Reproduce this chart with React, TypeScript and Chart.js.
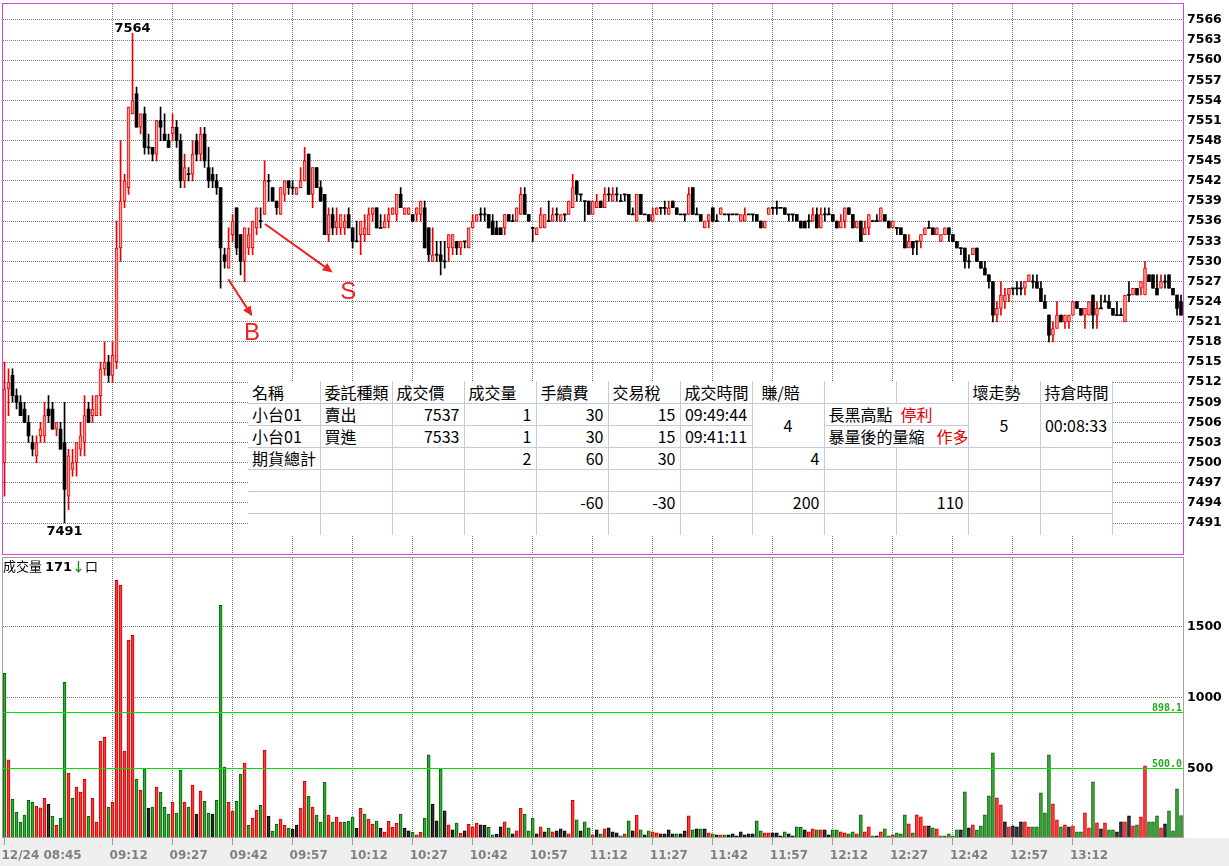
import React, { useEffect, useRef } from "react";
import { Chart, registerables } from "chart.js";

Chart.register(...registerables);

// ---------------- data ----------------
const sessionDate = "12/24";
const sessionStart = "08:45";
const prevSessionClose = 7513;
const currentVolume = 171;

const opens = [
  7500,7511,7513,7510,7509,7508,7506,7503,7501,7504,
  7504,7508,7508,7505,7505,7503,7495,7499,7500,7502,
  7503,7508,7507,7507,7510,7514,7515,7513,7515,7532,
  7539,7541,7552,7555,7550,7552,7547,7547,7546,7551,
  7549,7548,7549,7550,7548,7542,7543,7543,7548,7546,
  7549,7544,7543,7542,7541,7531,7529,7534,7538,7534,
  7530,7532,7532,7535,7536,7537,7542,7541,7539,7537,
  7540,7542,7541,7540,7541,7542,7546,7540,7544,7541,
  7540,7534,7537,7535,7535,7535,7537,7535,7533,7534,
  7534,7534,7537,7538,7535,7535,7536,7537,7537,7540,
  7537,7537,7537,7537,7537,7538,7535,7530,7531,7531,
  7530,7532,7532,7533,7532,7533,7532,7535,7536,7537,
  7537,7537,7536,7535,7535,7535,7537,7536,7536,7537,
  7540,7537,7535,7534,7535,7535,7536,7536,7537,7536,
  7537,7537,7538,7542,7540,7539,7539,7537,7538,7539,
  7538,7540,7539,7540,7539,7540,7540,7537,7536,7540,
  7537,7537,7536,7537,7538,7538,7537,7539,7538,7537,
  7537,7537,7541,7537,7537,7535,7536,7538,7536,7537,
  7537,7537,7537,7537,7536,7536,7537,7537,7537,7536,
  7535,7537,7538,7538,7538,7538,7537,7537,7537,7536,
  7536,7536,7536,7537,7535,7537,7537,7537,7536,7535,
  7536,7538,7537,7535,7536,7534,7535,7536,7536,7536,
  7537,7536,7535,7535,7535,7534,7532,7533,7533,7533,
  7534,7535,7535,7534,7533,7534,7535,7534,7533,7532,
  7532,7530,7531,7532,7530,7529,7528,7527,7522,7523,
  7524,7525,7526,7526,7526,7526,7527,7527,7527,7526,
  7524,7522,7519,7520,7522,7521,7521,7522,7524,7523,
  7522,7522,7525,7522,7523,7524,7524,7523,7522,7522,
  7521,7525,7525,7526,7526,7525,7528,7528,7526,7526,
  7527,7528,7526,7525,7524,
];
const highs = [
  7515,7514,7514,7511,7510,7509,7507,7504,7504,7506,
  7509,7510,7509,7506,7506,7509,7502,7502,7503,7506,
  7510,7509,7510,7510,7515,7518,7516,7518,7536,7548,
  7543,7553,7564,7556,7552,7553,7549,7547,7551,7553,
  7552,7549,7552,7551,7549,7546,7544,7548,7549,7550,
  7550,7547,7544,7543,7541,7532,7535,7537,7538,7534,
  7535,7535,7536,7538,7538,7545,7543,7541,7539,7541,
  7542,7542,7542,7541,7544,7547,7546,7544,7544,7542,
  7540,7538,7538,7538,7537,7537,7538,7535,7536,7536,
  7537,7538,7538,7538,7537,7537,7538,7538,7540,7541,
  7538,7538,7537,7538,7539,7539,7535,7535,7533,7533,
  7533,7534,7534,7533,7533,7533,7535,7537,7537,7538,
  7538,7537,7537,7536,7535,7537,7537,7537,7538,7541,
  7541,7537,7535,7535,7538,7537,7539,7538,7538,7537,
  7537,7539,7543,7542,7540,7539,7539,7539,7540,7539,
  7541,7541,7541,7541,7540,7540,7540,7538,7540,7540,
  7537,7537,7538,7538,7538,7539,7539,7539,7538,7537,
  7537,7541,7541,7538,7537,7536,7537,7538,7537,7538,
  7537,7537,7537,7537,7537,7538,7537,7537,7537,7536,
  7536,7538,7538,7539,7538,7538,7537,7537,7537,7536,
  7536,7537,7538,7538,7538,7538,7538,7537,7536,7537,
  7538,7538,7537,7536,7536,7536,7537,7536,7537,7538,
  7537,7536,7536,7535,7535,7534,7534,7533,7533,7534,
  7535,7536,7535,7535,7534,7535,7535,7534,7533,7532,
  7532,7531,7532,7532,7530,7530,7528,7527,7524,7527,
  7526,7526,7526,7527,7527,7527,7528,7528,7528,7527,
  7525,7522,7521,7524,7522,7522,7522,7524,7524,7523,
  7523,7524,7525,7524,7525,7525,7525,7523,7524,7523,
  7525,7527,7526,7526,7527,7530,7528,7528,7528,7528,
  7528,7528,7526,7525,7525,
];
const lows = [
  7495,7507,7509,7508,7507,7506,7503,7501,7500,7503,
  7503,7506,7505,7504,7502,7491,7493,7498,7498,7501,
  7501,7506,7506,7507,7507,7513,7512,7512,7514,7530,
  7538,7540,7552,7550,7549,7546,7546,7545,7545,7548,
  7548,7547,7548,7547,7541,7541,7542,7542,7545,7545,
  7544,7541,7541,7540,7526,7529,7529,7533,7531,7528,
  7527,7531,7531,7534,7535,7537,7539,7539,7537,7537,
  7539,7540,7540,7540,7541,7542,7540,7538,7541,7539,
  7534,7533,7534,7534,7534,7534,7535,7532,7533,7531,
  7533,7534,7536,7535,7535,7535,7535,7537,7536,7538,
  7537,7537,7536,7536,7536,7532,7530,7530,7530,7528,
  7529,7530,7531,7531,7531,7532,7532,7535,7536,7536,
  7536,7535,7534,7534,7534,7534,7536,7536,7536,7537,
  7537,7536,7533,7534,7535,7535,7536,7536,7536,7536,
  7536,7537,7538,7539,7539,7536,7537,7537,7538,7538,
  7538,7539,7539,7539,7539,7539,7537,7537,7536,7537,
  7537,7536,7536,7537,7537,7537,7537,7538,7537,7537,
  7536,7537,7537,7537,7536,7535,7535,7536,7536,7537,
  7537,7536,7537,7537,7536,7536,7537,7536,7536,7535,
  7535,7537,7537,7537,7538,7537,7536,7536,7536,7535,
  7535,7535,7536,7535,7535,7536,7537,7536,7535,7535,
  7535,7537,7535,7535,7533,7534,7534,7536,7536,7536,
  7536,7535,7535,7534,7534,7532,7532,7531,7531,7532,
  7534,7535,7534,7534,7533,7534,7533,7533,7532,7531,
  7529,7529,7531,7530,7529,7528,7526,7521,7521,7522,
  7523,7524,7525,7525,7525,7525,7527,7526,7526,7524,
  7523,7518,7518,7520,7521,7520,7520,7522,7523,7522,
  7520,7522,7520,7520,7523,7524,7523,7522,7522,7522,
  7521,7524,7525,7525,7525,7525,7527,7526,7525,7526,
  7526,7526,7525,7522,7522,
];
const closes = [
  7511,7512,7510,7509,7507,7506,7504,7502,7503,7505,
  7507,7507,7505,7506,7502,7496,7501,7500,7503,7504,
  7507,7506,7508,7510,7514,7515,7513,7516,7532,7539,
  7542,7553,7554,7550,7552,7547,7547,7546,7551,7550,
  7548,7547,7550,7548,7542,7544,7543,7546,7546,7549,
  7545,7542,7542,7541,7532,7530,7532,7536,7532,7530,
  7535,7534,7536,7538,7536,7542,7542,7539,7538,7541,
  7542,7541,7541,7541,7542,7545,7540,7544,7541,7539,
  7534,7537,7535,7536,7537,7536,7535,7533,7533,7536,
  7535,7537,7538,7535,7535,7536,7537,7538,7540,7538,
  7538,7538,7536,7538,7539,7532,7531,7531,7531,7530,
  7530,7534,7534,7532,7533,7533,7535,7536,7537,7537,
  7537,7535,7534,7534,7534,7537,7536,7536,7538,7540,
  7537,7536,7535,7535,7537,7537,7536,7537,7537,7537,
  7537,7539,7541,7540,7540,7539,7537,7539,7539,7538,
  7540,7540,7540,7540,7539,7540,7537,7537,7540,7537,
  7537,7536,7537,7538,7538,7538,7538,7538,7537,7537,
  7537,7540,7537,7537,7536,7536,7537,7536,7536,7538,
  7537,7537,7537,7537,7537,7537,7537,7537,7536,7535,
  7536,7538,7538,7538,7538,7537,7537,7537,7536,7535,
  7535,7536,7537,7535,7537,7537,7537,7536,7535,7536,
  7538,7537,7535,7536,7533,7535,7537,7536,7536,7538,
  7536,7535,7536,7535,7534,7532,7533,7532,7533,7534,
  7535,7535,7534,7535,7534,7535,7534,7533,7532,7532,
  7530,7530,7532,7530,7529,7528,7527,7522,7523,7525,
  7525,7526,7526,7526,7526,7527,7528,7527,7526,7524,
  7523,7519,7520,7522,7521,7522,7522,7524,7523,7522,
  7523,7524,7522,7523,7523,7524,7523,7522,7522,7522,
  7525,7525,7526,7525,7527,7529,7527,7526,7525,7527,
  7527,7526,7525,7523,7522,
];
const volumes = [
  1174,563,286,195,125,174,279,265,237,225,
  293,251,167,103,153,1110,469,293,371,336,
  427,167,293,125,695,723,230,265,1829,1796,
  625,1408,1441,427,350,500,223,230,371,336,
  230,181,265,188,491,265,230,385,181,343,
  272,188,181,279,1653,512,265,202,272,462,
  540,103,153,209,244,632,167,61,110,146,
  103,82,75,103,223,413,308,230,174,125,
  406,174,125,160,125,125,132,160,82,223,
  181,146,110,132,82,54,132,89,118,181,
  82,63,54,35,54,153,599,251,134,500,
  204,106,70,118,47,63,110,92,118,106,
  104,89,35,40,92,127,85,42,63,223,
  181,63,153,42,92,56,82,56,63,77,
  63,42,279,141,63,127,85,35,70,42,
  77,85,56,49,28,42,134,63,174,70,
  35,63,56,49,42,42,70,42,42,42,
  63,169,70,77,77,77,49,42,35,35,
  35,35,42,28,56,35,42,42,134,63,
  49,49,49,49,28,56,42,28,92,89,
  70,56,77,70,70,70,35,70,70,56,
  49,42,56,42,176,56,92,28,28,56,
  77,28,35,49,42,176,113,49,176,162,
  99,99,85,77,28,28,42,28,70,70,
  338,85,106,70,99,176,310,613,296,246,
  127,92,99,92,127,127,92,92,92,331,
  190,599,254,141,92,106,92,99,56,56,
  190,85,408,120,77,120,70,70,56,127,
  127,169,99,106,162,521,127,127,169,85,
  113,204,63,359,171,
];

const priceTicks = [
  7491, 7494, 7497, 7500, 7503, 7506, 7509, 7512, 7515, 7518, 7521, 7524, 7527,
  7530, 7533, 7536, 7539, 7542, 7545, 7548, 7551, 7554, 7557, 7560, 7563, 7566,
];
const volumeTicks = [500, 1000, 1500];
const timeTicks = [
  "08:45", "09:12", "09:27", "09:42", "09:57", "10:12", "10:27", "10:42", "10:57",
  "11:12", "11:27", "11:42", "11:57", "12:12", "12:27", "12:42", "12:57", "13:12",
];
const refLevels = [898.1, 500.0];
const trades = [
  { side: "B", time: "09:41", price: 7533 },
  { side: "S", time: "09:49", price: 7537 },
];

const tableHeader = ["名稱", "委託種類", "成交價", "成交量", "手續費", "交易稅", "成交時間", "賺/賠", "", "", "壞走勢", "持倉時間"];
const orderRows = [
  { name: "小台01", side: "賣出", price: 7537, qty: 1, fee: 30, tax: 15, time: "09:49:44", note: "長黑高點", tag: "停利" },
  { name: "小台01", side: "買進", price: 7533, qty: 1, fee: 30, tax: 15, time: "09:41:11", note: "暴量後的量縮", tag: "作多" },
];
const tradePnl = 4;
const badTrend = 5;
const holdTime = "00:08:33";
const totalRow = { label: "期貨總計", qty: 2, fee: 60, tax: 30, pnl: 4 };
const netRow = { fee: -60, tax: -30, pnl: 200, net: 110 };

// ---------------- helpers ----------------
function minuteLabels(start: string, n: number): string[] {
  const [h, m] = start.split(":").map(Number);
  const base = h * 60 + m;
  const out: string[] = [];
  for (let i = 0; i < n; i++) {
    const t = base + i;
    out.push(`${String(Math.floor(t / 60)).padStart(2, "0")}:${String(t % 60).padStart(2, "0")}`);
  }
  return out;
}

const labels = minuteLabels(sessionStart, opens.length);
const majorSet = new Set(timeTicks);
const isMajor = (i: number) => majorSet.has(labels[i]);

const UP = "#ee0000";
const UP_FILL = "#ff9c9c";
const DOWN = "#000000";
const GRID = "#7a7a7a";

const framePlugin = {
  id: "frame",
  afterDraw(chart: any, _a: any, opts: any) {
    const { ctx, chartArea: a } = chart;
    ctx.save();
    ctx.setLineDash([]);
    ctx.strokeStyle = opts.color;
    ctx.lineWidth = 1;
    const x0 = Math.floor(a.left) + 0.5;
    const x1 = Math.floor(a.right) + 0.5;
    const y0 = Math.floor(a.top) + 0.5;
    const y1 = Math.floor(a.bottom) + 0.5;
    ctx.strokeRect(x0, y0, x1 - x0, y1 - y0);
    ctx.restore();
  },
};

const dottedGridPlugin = {
  id: "dottedGrid",
  beforeDatasetsDraw(chart: any, _a: any, opts: any) {
    const { ctx, chartArea: a } = chart;
    const xs = chart.scales.x;
    const ys = chart.scales.y;
    ctx.save();
    ctx.strokeStyle = opts.color;
    ctx.lineWidth = 1;
    ctx.setLineDash([1, 1]);
    ctx.beginPath();
    labels.forEach((_, i) => {
      if (i > 0 && isMajor(i)) {
        const x = Math.floor(xs.getPixelForValue(i)) + 0.5;
        ctx.moveTo(x, Math.floor(a.top) + 1);
        ctx.lineTo(x, a.bottom);
      }
    });
    (opts.yTicks as number[]).forEach((v) => {
      const y = Math.floor(ys.getPixelForValue(v)) + 0.5;
      ctx.moveTo(Math.floor(a.left) + 1, y);
      ctx.lineTo(a.right, y);
    });
    ctx.stroke();
    ctx.restore();
  },
};

const bandPlugin = {
  id: "band",
  beforeDraw(chart: any, _a: any, opts: any) {
    const { ctx, chartArea: a, width, height } = chart;
    ctx.save();
    ctx.fillStyle = opts.color;
    ctx.fillRect(0, Math.floor(a.bottom) + 1, width, height - Math.floor(a.bottom) - 1);
    ctx.restore();
  },
};

const extremesPlugin = {
  id: "extremes",
  afterDatasetsDraw(chart: any) {
    const { ctx } = chart;
    const xs = chart.scales.x;
    const ys = chart.scales.y;
    let hi = 0;
    let lo = 0;
    highs.forEach((v, i) => { if (v > highs[hi]) hi = i; });
    lows.forEach((v, i) => { if (v < lows[lo]) lo = i; });
    ctx.save();
    ctx.font = 'bold 13px "DejaVu Sans"';
    ctx.fillStyle = "#000";
    ctx.textAlign = "center";
    ctx.textBaseline = "alphabetic";
    ctx.fillText(String(highs[hi]), xs.getPixelForValue(hi), ys.getPixelForValue(highs[hi]) - 1);
    ctx.fillText(String(lows[lo]), xs.getPixelForValue(lo), ys.getPixelForValue(lows[lo]) + 12);
    ctx.restore();
  },
};

const tradeMarksPlugin = {
  id: "tradeMarks",
  afterDatasetsDraw(chart: any, _a: any, opts: any) {
    const { ctx } = chart;
    const xs = chart.scales.x;
    const ys = chart.scales.y;
    ctx.save();
    ctx.setLineDash([]);
    ctx.strokeStyle = opts.color;
    ctx.fillStyle = opts.color;
    ctx.lineWidth = 2;
    trades.forEach((t, k) => {
      const m = opts.marks[k];
      const idx = labels.indexOf(t.time);
      const bx = xs.getPixelForValue(idx);
      const by = ys.getPixelForValue(t.price);
      const sx = bx + m.start[0], sy = by + m.start[1];
      const ex = bx + m.end[0], ey = by + m.end[1];
      const ang = Math.atan2(ey - sy, ex - sx);
      const hl = 10, hw = 4.5;
      const bxh = ex - hl * Math.cos(ang), byh = ey - hl * Math.sin(ang);
      ctx.beginPath();
      ctx.moveTo(sx, sy);
      ctx.lineTo(bxh, byh);
      ctx.stroke();
      ctx.beginPath();
      ctx.moveTo(ex, ey);
      ctx.lineTo(bxh + hw * Math.sin(ang), byh - hw * Math.cos(ang));
      ctx.lineTo(bxh - hw * Math.sin(ang), byh + hw * Math.cos(ang));
      ctx.closePath();
      ctx.fill();
      ctx.font = opts.font;
      ctx.textAlign = "center";
      ctx.textBaseline = "middle";
      ctx.fillText(t.side, bx + m.text[0], by + m.text[1]);
    });
    ctx.restore();
  },
};

const refLinesPlugin = {
  id: "refLines",
  afterDatasetsDraw(chart: any, _a: any, opts: any) {
    const { ctx, chartArea: a } = chart;
    const ys = chart.scales.y;
    ctx.save();
    ctx.setLineDash([]);
    refLevels.forEach((v) => {
      const y = Math.floor(ys.getPixelForValue(v)) + 0.5;
      ctx.strokeStyle = opts.color;
      ctx.lineWidth = 1;
      ctx.beginPath();
      ctx.moveTo(Math.floor(a.left) + 1, y);
      ctx.lineTo(a.right, y);
      ctx.stroke();
      ctx.fillStyle = opts.textColor;
      ctx.font = 'bold 10px "DejaVu Sans Mono"';
      ctx.textAlign = "right";
      ctx.textBaseline = "alphabetic";
      ctx.fillText(v.toFixed(1), a.right - 1, y - 2);
    });
    ctx.restore();
  },
};

const fitY = (s: any) => {
  s.width = 46;
  s.paddingTop = 0;
  s.paddingBottom = 0;
};

const yGrid = { display: false, drawTicks: false, tickLength: 0 };
const yTickFont = { family: "DejaVu Sans", weight: "bold" as const, size: 12.5 };

export default function App() {
  const topRef = useRef<HTMLCanvasElement>(null);
  const volRef = useRef<HTMLCanvasElement>(null);

  useEffect(() => {
    document.body.style.margin = "0";
    const up = closes.map((c, i) => c > opens[i]);
    const bodies = opens.map((o, i) => {
      const c = closes[i];
      if (o === c) return [o - 0.08, o + 0.08];
      return [Math.min(o, c), Math.max(o, c)];
    });
    const wicks = lows.map((l, i) => [l, highs[i]]);
    const dir = closes.map((c, i) => {
      const p = i === 0 ? prevSessionClose : closes[i - 1];
      return c > p ? 1 : c < p ? -1 : 0;
    });

    const top = new Chart(topRef.current!, {
      type: "bar",
      data: {
        labels,
        datasets: [
          {
            label: "body",
            data: bodies as any,
            grouped: false,
            barThickness: 3,
            backgroundColor: up.map((u) => (u ? UP_FILL : DOWN)),
            borderColor: up.map((u) => (u ? UP : DOWN)),
            borderWidth: up.map((u) => (u ? 1 : 0)) as any,
            borderSkipped: false,
          } as any,
          {
            label: "wick",
            data: wicks as any,
            grouped: false,
            barThickness: 1,
            backgroundColor: up.map((u) => (u ? UP : DOWN)),
            borderWidth: 0,
          } as any,
        ],
      },
      options: {
        animation: false,
        responsive: true,
        maintainAspectRatio: false,
        events: [],
        layout: { padding: { left: 2.5, right: 0, top: 3, bottom: 2 } },
        plugins: {
          legend: { display: false },
          tooltip: { enabled: false },
          frame: { color: "#dd44dd" },
          dottedGrid: { color: GRID, yTicks: priceTicks },
          tradeMarks: {
            color: "#f02020",
            font: '24px "Liberation Sans"',
            marks: [
              { start: [-0.3, 38], end: [23.7, 75], text: [23.4, 92] },
              { start: [4.4, 9.5], end: [72.1, 58], text: [87.7, 78] },
            ],
          },
        } as any,
        scales: {
          x: {
            type: "category",
            offset: true,
            grid: { display: false, drawTicks: false, tickLength: 0 },
            border: { display: false },
            ticks: { display: false, autoSkip: false },
            afterFit: (s: any) => { s.height = 0; s.paddingLeft = 0; s.paddingRight = 0; },
          },
          y: {
            position: "right",
            min: 7486.38,
            max: 7568.53,
            afterBuildTicks: (s: any) => { s.ticks = priceTicks.map((v) => ({ value: v })); },
            grid: yGrid,
            border: { display: false },
            ticks: { color: "#000", padding: 4, font: yTickFont, callback: (v: any) => String(v) },
            afterFit: fitY,
          },
        },
      },
      plugins: [dottedGridPlugin, framePlugin, extremesPlugin, tradeMarksPlugin],
    });

    const volFill = dir.map((d) => (d > 0 ? "#ff3a3a" : d < 0 ? "#38a838" : "#333333"));
    const volBorder = dir.map((d) => (d > 0 ? "#c80000" : d < 0 ? "#006400" : "#000000"));

    const vol = new Chart(volRef.current!, {
      type: "bar",
      data: {
        labels,
        datasets: [
          {
            label: "成交量",
            data: volumes,
            barThickness: 3,
            backgroundColor: volFill,
            borderColor: volBorder,
            borderWidth: 1,
            borderSkipped: "bottom",
          } as any,
        ],
      },
      options: {
        animation: false,
        responsive: true,
        maintainAspectRatio: false,
        events: [],
        layout: { padding: { left: 2.5, right: 0, top: 1, bottom: 0 } },
        plugins: {
          legend: { display: false },
          tooltip: { enabled: false },
          frame: { color: "#a8a29a" },
          band: { color: "#efefef" },
          dottedGrid: { color: GRID, yTicks: volumeTicks },
          refLines: { color: "#00dd00", textColor: "#22aa22" },
        } as any,
        scales: {
          x: {
            type: "category",
            offset: true,
            grid: {
              offset: false,
              drawOnChartArea: false,
              drawTicks: true,
              tickLength: 8,
              tickColor: ((ctx: any) => (isMajor(ctx.index) ? "#9a9a9a" : "rgba(0,0,0,0)")) as any,
            },
            border: { display: false },
            ticks: {
              autoSkip: false,
              maxRotation: 0,
              minRotation: 0,
              align: "start",
              labelOffset: -3,
              padding: 4,
              color: "#808080",
              font: { family: "DejaVu Sans", weight: "bold", size: 12 },
              callback: (_v: any, i: number) =>
                isMajor(i) ? (i === 0 ? `${sessionDate} ${labels[i]}` : labels[i]) : "",
            },
            afterFit: (s: any) => { s.height = 29; s.paddingLeft = 0; s.paddingRight = 0; },
          },
          y: {
            position: "right",
            min: 20,
            max: 1993,
            afterBuildTicks: (s: any) => { s.ticks = volumeTicks.map((v) => ({ value: v })); },
            grid: yGrid,
            border: { display: false },
            ticks: { color: "#000", padding: 4, font: yTickFont, callback: (v: any) => String(v) },
            afterFit: fitY,
          },
        },
      },
      plugins: [bandPlugin, dottedGridPlugin, framePlugin, refLinesPlugin],
    });

    return () => {
      top.destroy();
      vol.destroy();
    };
  }, []);

  const line = "1px solid #c5c9da";
  const td = (extra: React.CSSProperties = {}, last = false): React.CSSProperties => ({
    borderRight: line,
    borderBottom: last ? "none" : line,
    padding: "0 4px",
    whiteSpace: "nowrap",
    overflow: "hidden",
    textAlign: "left",
    ...extra,
  });
  const R: React.CSSProperties = { textAlign: "right" };
  const C: React.CSSProperties = { textAlign: "center" };
  const red: React.CSSProperties = { color: "#e00000" };
  const rowH = 22;
  const empties = (n: number, last = false) =>
    Array.from({ length: n }, (_, k) => <td key={`e${k}`} style={td({}, last)} />);

  return (
    <div style={{ position: "relative", width: 1229, height: 866, background: "#fff", overflow: "hidden" }}>
      <div style={{ position: "absolute", left: 0, top: 0, width: 1229, height: 556 }}>
        <canvas ref={topRef} />
      </div>
      <div style={{ position: "absolute", left: 0, top: 556, width: 1229, height: 310 }}>
        <canvas ref={volRef} />
      </div>
      <div
        style={{
          position: "absolute",
          left: 3,
          top: 558,
          fontSize: 13,
          lineHeight: "16px",
          fontFamily: '"Noto Sans CJK TC", sans-serif',
          color: "#000",
          whiteSpace: "nowrap",
        }}
      >
        成交量{" "}
        <span style={{ fontFamily: '"DejaVu Sans"', fontWeight: "bold" }}>{currentVolume}</span>
        <span style={{ color: "#1a8a1a", fontWeight: "bold" }}>↓</span>口
      </div>
      <table
        style={{
          position: "absolute",
          left: 248,
          top: 381,
          width: 864,
          tableLayout: "fixed",
          borderCollapse: "collapse",
          background: "#fff",
          fontFamily: '"Noto Sans CJK TC", sans-serif',
          fontSize: 16,
          color: "#000",
          lineHeight: "20px",
        }}
      >
        <colgroup>
          {tableHeader.map((_, k) => (
            <col key={k} style={{ width: 72 }} />
          ))}
        </colgroup>
        <tbody>
          <tr style={{ height: rowH }}>
            {tableHeader.map((h, k) => (
              <td key={k} style={td(k === 7 ? { paddingLeft: 9 } : {})}>
                {h}
              </td>
            ))}
          </tr>
          {orderRows.map((r, k) => (
            <tr key={k} style={{ height: rowH }}>
              <td style={td()}>{r.name}</td>
              <td style={td()}>{r.side}</td>
              <td style={td(R)}>{r.price}</td>
              <td style={td(R)}>{r.qty}</td>
              <td style={td(R)}>{r.fee}</td>
              <td style={td(R)}>{r.tax}</td>
              <td style={td(C)}>{r.time}</td>
              {k === 0 && (
                <td rowSpan={2} style={td(C)}>
                  {tradePnl}
                </td>
              )}
              <td colSpan={2} style={td()}>
                {r.note}
                <span style={{ ...red, marginLeft: k === 0 ? 8 : 12 }}>{r.tag}</span>
              </td>
              {k === 0 && (
                <td rowSpan={2} style={td(C)}>
                  {badTrend}
                </td>
              )}
              {k === 0 && (
                <td rowSpan={2} style={td(C)}>
                  {holdTime}
                </td>
              )}
            </tr>
          ))}
          <tr style={{ height: rowH }}>
            <td style={td()}>{totalRow.label}</td>
            {empties(2)}
            <td style={td(R)}>{totalRow.qty}</td>
            <td style={td(R)}>{totalRow.fee}</td>
            <td style={td(R)}>{totalRow.tax}</td>
            <td style={td()} />
            <td style={td(R)}>{totalRow.pnl}</td>
            {empties(4)}
          </tr>
          <tr style={{ height: rowH }}>{empties(12)}</tr>
          <tr style={{ height: rowH }}>
            {empties(4)}
            <td style={td(R)}>{netRow.fee}</td>
            <td style={td(R)}>{netRow.tax}</td>
            <td style={td()} />
            <td style={td(R)}>{netRow.pnl}</td>
            <td style={td()} />
            <td style={td(R)}>{netRow.net}</td>
            {empties(2)}
          </tr>
          <tr style={{ height: rowH }}>{empties(12, true)}</tr>
        </tbody>
      </table>
    </div>
  );
}
